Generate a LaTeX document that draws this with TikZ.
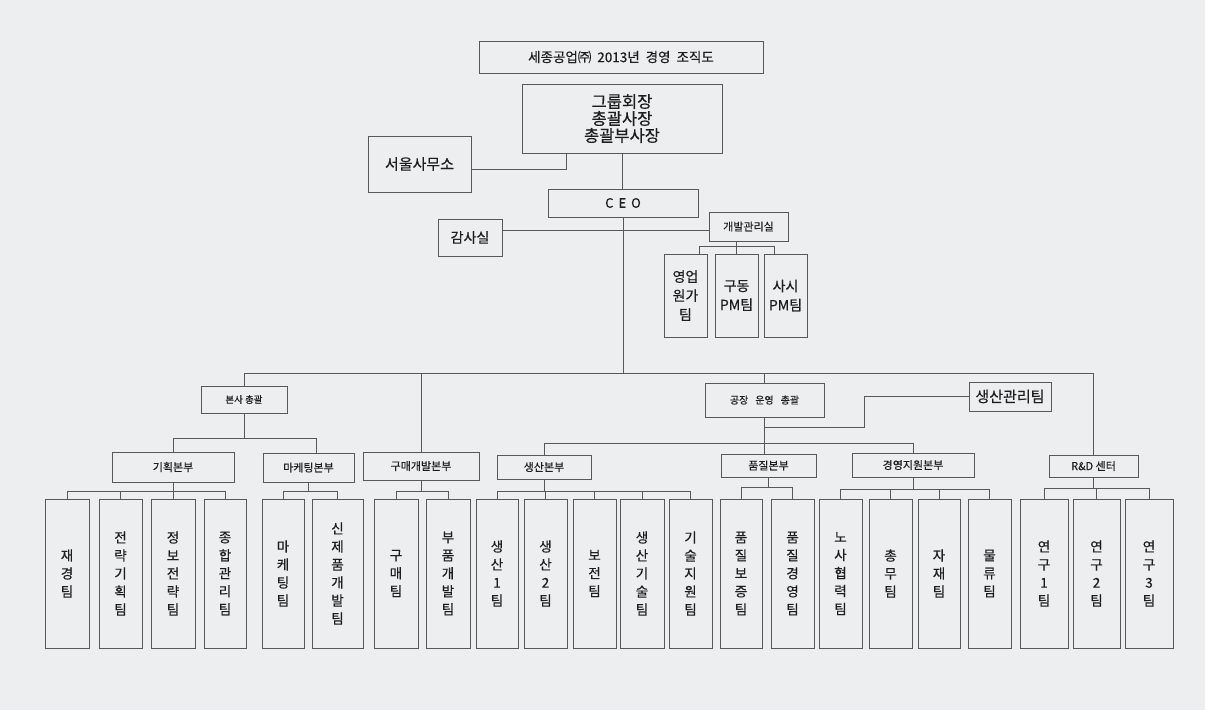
\documentclass[tikz,border=0pt]{standalone}
\usepackage{fontspec}
\setmainfont[FakeBold=0.4]{Noto Sans CJK KR}
\definecolor{bg}{RGB}{236,238,240}
\definecolor{ln}{RGB}{88,88,88}
\definecolor{tx}{RGB}{30,30,30}
\begin{document}
\begin{tikzpicture}[x=1pt,y=-1pt,
  box/.style={draw=ln, line width=0.9pt, inner sep=0pt, text=tx, align=center},
  wh/.style 2 args={minimum width=#1pt, minimum height=#2pt},
  conn/.style={draw=ln, line width=0.8pt},
  team/.style={box, minimum width=43pt, minimum height=149pt, font=\fontsize{13.5}{18}\selectfont},
  sm/.style={font=\fontsize{11}{12}\selectfont}]
\fill[bg] (0,0) rectangle (1205,710);
\useasboundingbox (0,0) rectangle (1205,710);

% top part
\node[box, wh={284}{32}, font=\fontsize{13.5}{15}\selectfont] (title) at (621,57) {세종공업㈜\hspace{6pt}2013년\hspace{6pt}경영\hspace{6pt}조직도};
\node[box, wh={200}{69}, font=\fontsize{16.5}{17}\selectfont] (top) at (622,118.5) {그룹회장\\총괄사장\\총괄부사장};
\node[box, wh={103}{56}, font=\fontsize{15}{16}\selectfont] (seoul) at (419.5,164) {서울사무소};
\node[box, wh={150}{28}, font=\fontsize{13}{15}\selectfont] (ceo) at (623,203) {C\hspace{5pt}E\hspace{5pt}O};
\node[box, wh={64}{37}, font=\fontsize{14}{15}\selectfont] (audit) at (470,237.5) {감사실};
\node[box, wh={79}{29}, sm] (devmgmt) at (748.5,226.5) {개발관리실};
\node[box, wh={43}{83}, font=\fontsize{14}{19}\selectfont] (pm1) at (685.5,295.5) {영업\\원가\\팀};
\node[box, wh={43}{83}, font=\fontsize{14}{19}\selectfont] (pm2) at (736.5,295.5) {구동\\PM팀};
\node[box, wh={43}{83}, font=\fontsize{14}{19}\selectfont] (pm3) at (785.5,295.5) {사시\\PM팀};

% second level
\node[box, wh={86}{27}, font=\fontsize{9.5}{10}\selectfont] (hq) at (244,399.5) {본사 총괄};
\node[box, wh={119}{34}, font=\fontsize{10}{11}\selectfont] (factory) at (764.5,400) {공장\hspace{7pt}운영\hspace{7pt}총괄};
\node[box, wh={82}{29}, font=\fontsize{15}{16}\selectfont] (prodmgmt) at (1010,396.5) {생산관리팀};

% third level
\node[box, wh={122}{30}, sm] (plan) at (173,467) {기획본부};
\node[box, wh={91}{29}, sm] (mkt) at (308.5,467.5) {마케팅본부};
\node[box, wh={116}{28}, sm] (purch) at (421,466) {구매개발본부};
\node[box, wh={94}{24}, sm] (prod) at (544,467) {생산본부};
\node[box, wh={95}{23}, sm] (qual) at (768.5,465.5) {품질본부};
\node[box, wh={122}{24}, sm] (mgmt) at (913,465) {경영지원본부};
\node[box, wh={89}{22}, sm] (rnd) at (1093.5,466) {R\&D 센터};

% teams
\node[team, minimum width=44pt] (t1) at (67,573.5) {재\\경\\팀};
\node[team] (t2) at (120.5,573.5) {전\\략\\기\\획\\팀};
\node[team, minimum width=44pt] (t3) at (173,573.5) {정\\보\\전\\략\\팀};
\node[team, minimum width=42pt] (t4) at (225,573.5) {종\\합\\관\\리\\팀};
\node[team, minimum width=42pt] (t5) at (283,573.5) {마\\케\\팅\\팀};
\node[team, minimum width=51pt] (t6) at (337.5,573.5) {신\\제\\품\\개\\발\\팀};
\node[team, minimum width=44pt] (t7) at (396,573.5) {구\\매\\팀};
\node[team, minimum width=44pt] (t8) at (448,573.5) {부\\품\\개\\발\\팀};
\node[team, minimum width=42pt] (t9) at (497,573.5) {생\\산\\1\\팀};
\node[team] (t10) at (545.5,573.5) {생\\산\\2\\팀};
\node[team] (t11) at (594.5,573.5) {보\\전\\팀};
\node[team, minimum width=44pt] (t12) at (642,573.5) {생\\산\\기\\술\\팀};
\node[team] (t13) at (690.5,573.5) {기\\술\\지\\원\\팀};
\node[team, minimum width=42pt] (t14) at (741,573.5) {품\\질\\보\\증\\팀};
\node[team] (t15) at (792.5,573.5) {품\\질\\경\\영\\팀};
\node[team] (t16) at (840.5,573.5) {노\\사\\협\\력\\팀};
\node[team] (t17) at (890.5,573.5) {총\\무\\팀};
\node[team, minimum width=42pt] (t18) at (939,573.5) {자\\재\\팀};
\node[team] (t19) at (989.5,573.5) {물\\류\\팀};
\node[team, minimum width=48pt] (t20) at (1044,573.5) {연\\구\\1\\팀};
\node[team, minimum width=47pt] (t21) at (1096.5,573.5) {연\\구\\2\\팀};
\node[team, minimum width=48pt] (t22) at (1149,573.5) {연\\구\\3\\팀};

% connectors: top
\draw[conn] ([yshift=-5pt]seoul.east) -| ([xshift=-56pt]top.south);
\draw[conn] (top.south) -- (top.south |- ceo.north);
\draw[conn] (ceo.south) -- ++(0,156) coordinate (bus);
\draw[conn] ([yshift=7.5pt]audit.east) -- ([yshift=7.5pt]audit.east -| devmgmt.west);
\draw[conn] (pm2.north) -- (pm2.north |- devmgmt.south);
\path (pm2.north) ++(0,-7) coordinate (db);
\draw[conn] ([xshift=13.5pt]pm1.north) |- (db) -| ([xshift=-11.5pt]pm3.north);

% main bus
\draw[conn] (hq.north) |- (bus) -| (rnd.north);
\draw[conn] (purch.north) -- (purch.north |- bus);
\draw[conn] (factory.north) -- (factory.north |- bus);

% hq
\draw[conn] (hq.south) -- ++(0,25) coordinate (hb);
\draw[conn] (plan.north) |- (hb) -| ([xshift=7.5pt]mkt.north);

% factory
\draw[conn] (factory.south) -- (factory.south |- qual.north);
\path (factory.south) ++(0,26) coordinate (fb);
\path (factory.south) ++(0,10) coordinate (fp);
\draw[conn] (prod.north) |- (fb) -| (mgmt.north);
\draw[conn] (prodmgmt.west) -- ++(-104,0) |- (fp);

% team buses
\draw[conn] (plan.south) -- ++(0,9) coordinate (pb);
\draw[conn] (t1.north) |- (pb) -| (t4.north);
\foreach \t in {t2,t3} \draw[conn] (\t.north) -- (\t.north |- pb);

\draw[conn] (mkt.south) -- ++(0,9) coordinate (mb);
\draw[conn] (t5.north) |- (mb) -| (t6.north);

\draw[conn] (purch.south) -- ++(0,11) coordinate (ub);
\draw[conn] (t7.north) |- (ub) -| (t8.north);

\draw[conn] (prod.south) -- ++(0,12) coordinate (sb);
\draw[conn] (t9.north) |- (sb) -| (t13.north);
\foreach \t in {t10,t11,t12} \draw[conn] (\t.north) -- (\t.north |- sb);

\draw[conn] (qual.south) -- ++(0,10) coordinate (qb);
\draw[conn] (t14.north) |- (qb) -| (t15.north);

\draw[conn] (mgmt.south) -- ++(0,12) coordinate (gb);
\draw[conn] (t16.north) |- (gb) -| (t19.north);
\foreach \t in {t17,t18} \draw[conn] (\t.north) -- (\t.north |- gb);

\draw[conn] (rnd.south) -- ++(0,11) coordinate (rb);
\draw[conn] (t20.north) |- (rb) -| (t22.north);
\draw[conn] (t21.north) -- (t21.north |- rb);
\end{tikzpicture}
\end{document}
